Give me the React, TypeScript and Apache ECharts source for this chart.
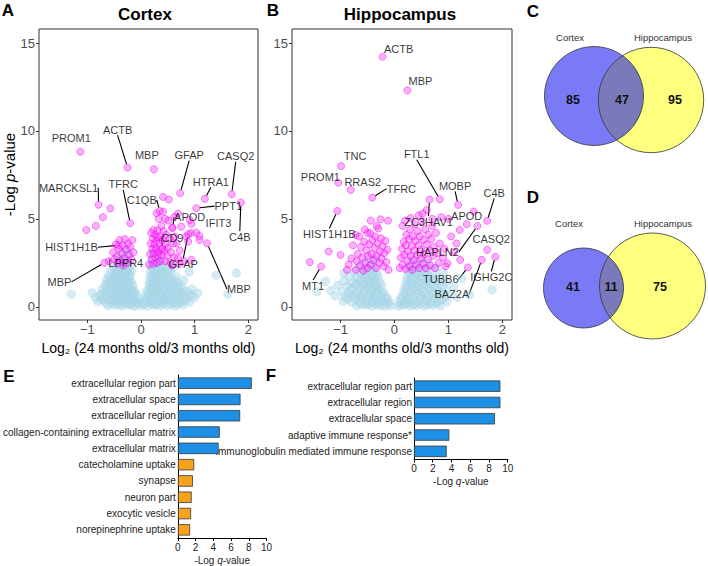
import React, { useEffect, useRef } from "react";
import * as echarts from "echarts";

// ---------------- DATA ----------------
const volcanoXTicks = [-1, 0, 1, 2];
const volcanoYTicks = [0, 5, 10, 15];
const goXTicks = [0, 2, 4, 6, 8, 10];

// Cortex volcano: non-significant genes (light blue cloud)
const cortexBackground: number[][] = [
  [-0.62, 0.06], [-0.48, 0.1], [-0.36, 0.04], [-0.24, 0.08], [-0.12, 0.03], [0.0, 0.07], [0.12, 0.04], [0.24, 0.09], [0.36, 0.05], [0.5, 0.08], [0.64, 0.04], [0.78, 0.1],
  [-0.55, 0.16], [-0.42, 0.14], [-0.3, 0.17], [-0.18, 0.13], [-0.06, 0.16], [0.06, 0.14], [0.18, 0.17], [0.3, 0.13], [0.43, 0.16], [0.57, 0.14], [0.7, 0.17],
  [-0.8, 0.3], [-0.66, 0.24], [-0.53, 0.32], [-0.41, 0.26], [-0.3, 0.3], [-0.19, 0.22], [-0.08, 0.3], [0.04, 0.25], [0.15, 0.31], [0.26, 0.22], [0.38, 0.29], [0.5, 0.33], [0.63, 0.24], [0.76, 0.3], [0.9, 0.27],
  [-0.74, 0.41], [-0.6, 0.38], [-0.47, 0.42], [-0.35, 0.39], [-0.24, 0.41], [-0.13, 0.38], [-0.02, 0.42], [0.09, 0.39], [0.2, 0.41], [0.32, 0.38], [0.44, 0.42], [0.56, 0.39], [0.69, 0.41], [0.82, 0.38],
  [-0.85, 0.52], [-0.7, 0.47], [-0.57, 0.55], [-0.45, 0.5], [-0.33, 0.46], [-0.22, 0.54], [-0.11, 0.49], [0.1, 0.53], [0.21, 0.47], [0.33, 0.55], [0.45, 0.5], [0.58, 0.46], [0.72, 0.54], [0.86, 0.49], [1.0, 0.52],
  [-0.77, 0.63], [-0.63, 0.61], [-0.51, 0.64], [-0.39, 0.6], [-0.28, 0.63], [-0.17, 0.61], [-0.06, 0.64], [0.16, 0.6], [0.27, 0.63], [0.39, 0.61], [0.51, 0.64], [0.65, 0.6], [0.79, 0.63], [0.93, 0.61],
  [-1.3, 0.72], [-0.91, 0.8], [-0.74, 0.74], [-0.6, 0.78], [-0.48, 0.72], [-0.36, 0.79], [-0.25, 0.73], [-0.14, 0.77], [0.13, 0.74], [0.24, 0.79], [0.36, 0.72], [0.49, 0.77], [0.62, 0.73], [0.76, 0.8], [0.92, 0.74], [1.06, 0.78], [1.62, 0.72],
  [-0.66, 0.88], [-0.54, 0.86], [-0.42, 0.89], [-0.31, 0.87], [-0.21, 0.9], [-0.11, 0.86], [0.1, 0.89], [0.2, 0.86], [0.31, 0.9], [0.43, 0.87], [0.56, 0.89], [0.7, 0.86], [0.85, 0.89],
  [-0.72, 1.02], [-0.6, 0.97], [-0.48, 1.04], [-0.37, 0.99], [-0.26, 1.03], [-0.16, 0.98], [0.15, 1.02], [0.25, 0.97], [0.37, 1.04], [0.5, 0.99], [0.63, 1.03], [0.78, 0.98], [0.95, 1.02],
  [-0.66, 1.13], [-0.54, 1.11], [-0.43, 1.14], [-0.32, 1.1], [-0.21, 1.13], [0.19, 1.11], [0.3, 1.14], [0.42, 1.1], [0.55, 1.13], [0.69, 1.11],
  [-0.66, 1.27], [-0.55, 1.22], [-0.44, 1.28], [-0.33, 1.23], [-0.23, 1.27], [-0.15, 1.21], [0.15, 1.26], [0.24, 1.22], [0.35, 1.28], [0.47, 1.23], [0.6, 1.27], [0.74, 1.22],
  [-0.6, 1.38], [-0.49, 1.36], [-0.38, 1.39], [-0.27, 1.37], [-0.18, 1.4], [0.2, 1.37], [0.3, 1.39], [0.42, 1.36], [0.55, 1.4], [0.68, 1.37],
  [-0.64, 1.52], [-0.53, 1.47], [-0.42, 1.53], [-0.32, 1.48], [-0.22, 1.52], [0.16, 1.49], [0.26, 1.53], [0.37, 1.47], [0.49, 1.52], [0.62, 1.48], [0.8, 1.51],
  [-0.57, 1.63], [-0.47, 1.61], [-0.36, 1.64], [-0.26, 1.6], [0.21, 1.63], [0.32, 1.61], [0.44, 1.64], [0.57, 1.6],
  [-0.61, 1.77], [-0.5, 1.72], [-0.4, 1.78], [-0.3, 1.73], [-0.2, 1.77], [0.17, 1.72], [0.27, 1.78], [0.39, 1.73], [0.52, 1.77], [0.66, 1.73], [1.4, 1.8],
  [-0.51, 1.88], [-0.41, 1.86], [-0.31, 1.89], [-0.22, 1.87], [0.23, 1.89], [0.35, 1.86], [0.48, 1.88],
  [-0.56, 2.02], [-0.46, 1.97], [-0.36, 2.03], [-0.26, 1.98], [-0.18, 2.02], [0.18, 1.98], [0.29, 2.03], [0.41, 1.97], [0.55, 2.02], [0.9, 1.98], [1.78, 1.92],
  [-0.45, 2.13], [-0.35, 2.11], [-0.26, 2.14], [0.24, 2.12], [0.36, 2.14], [0.5, 2.11],
  [-0.5, 2.27], [-0.4, 2.22], [-0.3, 2.28], [-0.21, 2.23], [0.19, 2.27], [0.3, 2.22], [0.43, 2.28], [0.6, 2.24],
  [-0.39, 2.38], [-0.29, 2.37], [0.25, 2.39], [0.38, 2.36],
  [-0.44, 2.52], [-0.34, 2.47], [-0.25, 2.53], [0.2, 2.48], [0.31, 2.53], [0.46, 2.49],
  [-0.38, 2.77], [-0.28, 2.72], [0.21, 2.76], [0.32, 2.72],
  [-0.33, 3.02], [-0.24, 2.98], [0.22, 3.01], [0.3, 2.97],
  [-0.27, 3.23], [0.25, 3.27],
];

// Cortex volcano: significant genes (magenta)
const cortexSignificant: number[][] = [
  [-0.52, 3.1], [-0.47, 3.55], [-0.45, 2.85], [-0.42, 3.3], [-0.4, 3.8], [-0.38, 2.6], [-0.36, 3.05], [-0.34, 3.5], [-0.31, 2.75], [-0.3, 3.85],
  [-0.28, 3.25], [-0.26, 2.5], [-0.24, 3.6], [-0.22, 2.95], [-0.2, 3.4], [-0.18, 2.7], [-0.16, 3.8], [-0.14, 3.1], [-0.33, 2.35], [-0.44, 2.45], [-0.5, 2.7],
  [-1.02, 4.37], [-0.84, 4.6], [-0.71, 5.1], [-0.57, 5.6],
  [0.15, 2.4], [0.17, 3.0], [0.18, 3.6], [0.2, 2.7], [0.21, 3.3], [0.22, 3.9], [0.23, 2.45], [0.24, 3.05], [0.25, 3.55], [0.26, 4.1],
  [0.27, 2.8], [0.28, 3.3], [0.29, 3.75], [0.3, 2.5], [0.31, 4.35], [0.32, 3.1], [0.33, 2.9], [0.34, 3.6], [0.35, 4.0], [0.36, 2.6],
  [0.37, 3.3], [0.38, 4.6], [0.39, 2.95], [0.4, 3.8], [0.42, 4.3], [0.43, 3.2], [0.45, 2.6], [0.46, 3.6], [0.47, 4.1], [0.49, 2.9],
  [0.5, 3.35], [0.51, 4.9], [0.53, 3.9], [0.55, 2.5], [0.56, 3.1], [0.58, 4.5], [0.6, 3.6], [0.62, 2.8], [0.63, 4.0], [0.66, 3.62],
  [0.69, 2.77], [0.69, 5.3], [0.75, 4.56], [0.72, 3.2], [0.8, 2.6], [0.84, 4.0], [0.88, 3.71], [0.91, 4.94], [0.93, 4.19], [0.94, 2.67],
  [1.03, 4.22], [1.09, 4.03], [1.09, 3.8], [0.41, 6.25], [0.52, 6.1], [0.29, 5.32], [0.41, 5.41], [0.23, 4.37], [0.3, 3.95], [0.19, 4.2],
  [0.33, 5.0], [0.45, 5.0], [0.62, 5.1], [0.58, 2.35], [0.72, 2.45],
];

// Cortex volcano: labelled genes
const cortexGeneNames = ["PROM1", "ACTB", "MBP", "GFAP", "CASQ2", "HTRA1", "PPT1", "C4B", "IFIT3", "APOD", "CD9", "GFAP", "MBP", "C1QB", "TFRC", "MARCKSL1", "HIST1H1B", "LPPR4", "MBP"];
const cortexGeneX = [-1.13, -0.25, 0.24, 0.73, 1.69, 1.19, 1.03, 1.86, 0.94, 0.59, 0.4, 0.88, 1.23, 0.35, -0.2, -0.79, -0.42, -0.6, -0.68];
const cortexGeneY = [8.82, 7.92, 7.82, 6.46, 6.4, 6.14, 5.61, 5.93, 4.72, 4.49, 3.3, 4.13, 3.62, 5.45, 4.75, 5.8, 3.5, 2.6, 2.5];

// Hippocampus volcano: non-significant genes
const hippoBackground: number[][] = [
  [-0.7, 0.06], [-0.55, 0.1], [-0.42, 0.04], [-0.3, 0.08], [-0.18, 0.03], [-0.07, 0.07], [0.07, 0.04], [0.18, 0.09], [0.3, 0.05], [0.42, 0.08], [0.55, 0.04], [0.7, 0.1], [0.85, 0.06],
  [-0.62, 0.16], [-0.48, 0.14], [-0.36, 0.17], [-0.24, 0.13], [-0.12, 0.16], [0.12, 0.14], [0.24, 0.17], [0.36, 0.13], [0.48, 0.16], [0.62, 0.14], [0.77, 0.17],
  [-0.95, 0.32], [-0.8, 0.27], [-0.66, 0.33], [-0.53, 0.28], [-0.41, 0.31], [-0.3, 0.26], [-0.19, 0.32], [-0.09, 0.27], [0.09, 0.31], [0.19, 0.26], [0.3, 0.32], [0.42, 0.28], [0.55, 0.33], [0.68, 0.27], [0.82, 0.31], [0.97, 0.28],
  [-0.87, 0.46], [-0.72, 0.44], [-0.59, 0.47], [-0.47, 0.43], [-0.35, 0.46], [-0.24, 0.44], [-0.13, 0.47], [0.12, 0.44], [0.24, 0.46], [0.36, 0.43], [0.48, 0.47], [0.61, 0.44], [0.75, 0.46], [0.89, 0.43],
  [-1.1, 0.62], [-0.92, 0.57], [-0.77, 0.63], [-0.63, 0.58], [-0.5, 0.62], [-0.38, 0.57], [-0.27, 0.63], [-0.16, 0.58], [0.14, 0.62], [0.25, 0.57], [0.37, 0.63], [0.5, 0.58], [0.64, 0.62], [0.79, 0.57], [0.95, 0.63], [1.16, 0.55], [1.39, 0.68],
  [-0.85, 0.76], [-0.7, 0.74], [-0.57, 0.77], [-0.44, 0.73], [-0.33, 0.76], [-0.22, 0.74], [0.2, 0.77], [0.31, 0.74], [0.44, 0.76], [0.58, 0.73], [0.72, 0.77], [0.88, 0.74],
  [-1.44, 0.85], [-1.18, 0.93], [-0.98, 0.88], [-0.82, 0.92], [-0.68, 0.87], [-0.55, 0.93], [-0.43, 0.88], [-0.32, 0.92], [-0.21, 0.87], [0.17, 0.92], [0.28, 0.87], [0.4, 0.93], [0.53, 0.88], [0.67, 0.92], [0.82, 0.87], [0.98, 0.93], [1.81, 0.97],
  [-0.8, 1.06], [-0.65, 1.04], [-0.52, 1.07], [-0.4, 1.03], [-0.29, 1.06], [0.23, 1.04], [0.36, 1.07], [0.5, 1.03], [0.65, 1.06], [0.8, 1.04],
  [-1.05, 1.22], [-0.88, 1.17], [-0.72, 1.23], [-0.58, 1.18], [-0.46, 1.22], [-0.35, 1.17], [-0.24, 1.23], [0.2, 1.18], [0.31, 1.22], [0.44, 1.17], [0.58, 1.23], [0.73, 1.18], [0.9, 1.22], [1.1, 1.17],
  [-0.71, 1.33], [-0.57, 1.31], [-0.45, 1.34], [-0.33, 1.3], [0.26, 1.33], [0.4, 1.31], [0.53, 1.34], [0.68, 1.3], [0.84, 1.33],
  [-1.28, 1.44], [-0.94, 1.47], [-0.78, 1.42], [-0.64, 1.48], [-0.51, 1.43], [-0.39, 1.47], [-0.27, 1.42], [0.22, 1.47], [0.34, 1.42], [0.47, 1.48], [0.61, 1.43], [0.77, 1.47], [0.95, 1.42],
  [-0.62, 1.58], [-0.49, 1.56], [-0.36, 1.59], [0.29, 1.57], [0.43, 1.59], [0.57, 1.56], [0.72, 1.58],
  [-0.84, 1.72], [-0.69, 1.67], [-0.55, 1.73], [-0.42, 1.68], [-0.3, 1.72], [0.24, 1.68], [0.37, 1.73], [0.5, 1.67], [0.65, 1.72], [0.82, 1.68], [1.25, 1.62],
  [-0.53, 1.83], [-0.4, 1.81], [0.31, 1.84], [0.46, 1.82], [0.61, 1.83],
  [-0.94, 1.91], [-0.74, 1.97], [-0.6, 1.92], [-0.46, 1.98], [-0.33, 1.93], [0.26, 1.97], [0.4, 1.92], [0.54, 1.98], [0.7, 1.93], [0.9, 1.97],
  [-0.45, 2.08], [0.34, 2.09], [0.5, 2.07],
  [-0.66, 2.22], [-0.52, 2.17], [-0.38, 2.23], [0.28, 2.18], [0.43, 2.22], [0.6, 2.17], [0.78, 2.21],
  [-0.56, 2.47], [-0.42, 2.42], [0.3, 2.46], [0.46, 2.42], [0.64, 2.47],
  [-0.46, 2.72], [-0.35, 2.67], [0.33, 2.71], [0.5, 2.67],
];

// Hippocampus volcano: significant genes
const hippoSignificant: number[][] = [
  [-0.72, 2.1], [-0.7, 2.6], [-0.68, 3.0], [-0.64, 2.35], [-0.62, 3.4], [-0.6, 2.8], [-0.58, 2.05], [-0.56, 3.7], [-0.54, 2.5], [-0.52, 3.2],
  [-0.5, 2.2], [-0.49, 2.9], [-0.47, 3.55], [-0.45, 4.2], [-0.44, 2.4], [-0.42, 3.0], [-0.41, 3.8], [-0.39, 2.65], [-0.37, 3.35], [-0.36, 4.0],
  [-0.34, 2.2], [-0.33, 2.9], [-0.31, 3.6], [-0.3, 4.45], [-0.28, 2.5], [-0.27, 3.15], [-0.25, 3.9], [-0.24, 2.75], [-0.22, 3.45], [-0.2, 2.3],
  [-0.19, 3.05], [-0.17, 3.75], [-0.15, 2.55], [-0.13, 3.25], [-0.11, 2.1], [-0.44, 4.9], [-0.26, 4.98], [-0.12, 4.9], [-0.72, 4.09], [-1.22, 3.14],
  [-1.57, 2.54], [-1.0, 2.95], [-0.88, 2.1], [-0.8, 2.75], [-0.77, 3.5], [-0.85, 2.4], [-0.65, 4.0], [-0.55, 4.4], [-0.33, 4.6], [-0.5, 4.2],
  [0.1, 2.2], [0.12, 2.8], [0.14, 3.3], [0.15, 2.4], [0.17, 3.7], [0.18, 2.95], [0.2, 2.15], [0.21, 3.5], [0.22, 4.1], [0.24, 2.6],
  [0.25, 3.15], [0.27, 3.85], [0.28, 2.3], [0.29, 4.4], [0.3, 2.9], [0.32, 3.45], [0.33, 2.1], [0.34, 4.0], [0.36, 2.65], [0.37, 3.2],
  [0.38, 4.7], [0.39, 3.75], [0.4, 2.4], [0.42, 2.95], [0.43, 4.3], [0.45, 3.5], [0.46, 2.2], [0.47, 4.0], [0.49, 2.75], [0.5, 3.25],
  [0.51, 4.85], [0.53, 2.45], [0.54, 3.8], [0.55, 3.0], [0.57, 4.4], [0.58, 2.2], [0.6, 3.55], [0.6, 5.5], [0.62, 2.7], [0.63, 4.1],
  [0.65, 3.2], [0.66, 2.35], [0.68, 3.85], [0.7, 4.6], [0.72, 2.9], [0.73, 3.4], [0.75, 2.2], [0.77, 4.2], [0.8, 3.05], [0.82, 2.5],
  [0.84, 3.6], [0.87, 5.1], [0.9, 2.8], [0.93, 3.3], [0.95, 2.3], [0.98, 2.48], [1.05, 4.0], [1.1, 3.1], [1.21, 4.37], [1.34, 4.7],
  [1.22, 2.67], [1.15, 3.6], [0.52, 5.3], [0.45, 5.2], [0.7, 5.0], [1.0, 5.0], [0.3, 5.05], [0.15, 4.6], [0.2, 4.9],
];

const hippoGeneNames = ["ACTB", "MBP", "TNC", "PROM1", "RRAS2", "TFRC", "HIST1H1B", "MT1", "FTL1", "MOBP", "ZC3HAV1", "APOD", "HAPLN2", "C4B", "CASQ2", "IGHG2C", "TUBB6", "BAZ2A"];
const hippoGeneX = [-0.22, 0.24, -0.99, -1.04, -0.81, -0.41, -1.06, -1.36, 0.84, 1.18, 0.65, 1.47, 1.54, 1.72, 1.72, 1.87, 1.36, 1.62];
const hippoGeneY = [14.22, 12.31, 8.01, 7.06, 6.65, 6.21, 5.45, 2.29, 6.12, 5.8, 6.1, 5.42, 4.6, 4.89, 3.24, 2.84, 2.24, 2.67];

// Venn diagrams: [Cortex only, shared, Hippocampus only]
const vennSetNames = ["Cortex", "Hippocampus"];
const vennCCounts = [85, 47, 95];
const vennDCounts = [41, 11, 75];

// GO enrichment (E: cortex, F: hippocampus)
const goCortexTerms = [
  "extracellular region part", "extracellular space", "extracellular region", "collagen-containing extracellular matrix", "extracellular matrix",
  "catecholamine uptake", "synapse", "neuron part", "exocytic vesicle", "norepinephrine uptake",
];
const goCortexValues = [8.34, 7.07, 7.03, 4.73, 4.6, 1.84, 1.7, 1.56, 1.49, 1.38];
const goCortexDirection = ["up", "up", "up", "up", "up", "down", "down", "down", "down", "down"];

const goHippoTerms = [
  "extracellular region part", "extracellular region", "extracellular space", "adaptive immune response*", "immunoglobulin mediated immune response",
];
const goHippoValues = [9.22, 9.22, 8.64, 3.77, 3.49];

// ---------------- LAYOUT / STYLE ----------------
const FONT = "'Liberation Sans', Arial, Helvetica, sans-serif";
const BLUE_BAR = "#1E8FE6";
const ORANGE_BAR = "#F7A21B";

// label offsets (dx, dy in px, leader line 1/0) for the gene annotations
const cortexLabelLayout = [
  [-9, -14, 0], [-10, -38, 1], [-7, -14, 0], [9, -38, 1], [4, -38, 1], [6, -17, 1], [32, -2, 1], [-1, 34, 1], [27, -1, 0], [17, -11, 1],
  [10, -11, 1], [-5, 30, 1], [32, 46, 1], [-18, -11, 1], [-7, -39, 1], [-30, -17, 1], [-47, 2, 1], [17, 2, 0], [-45, 19, 1],
];
const hippoLabelLayout = [
  [16, -8, 0], [13, -9, 0], [14, -10, 0], [-18, -6, 0], [12, -8, 0], [29, -9, 1], [-8, 23, 1], [-8, 19, 1], [-23, -45, 1], [-3, -19, 1],
  [-1, 22, 1], [-7, 4, 0], [-40, 26, 1], [7, -28, 1], [4, -11, 0], [-4, 20, 1], [-27, 12, 1], [-30, 34, 1],
];

const fmtMinus = (v: number) => (v < 0 ? "\u2212" + Math.abs(v) : String(v));

function volcanoXAxis(gridIndex: number) {
  return {
    type: "value",
    gridIndex,
    min: -1.9,
    max: 2.18,
    axisLine: { show: false, onZero: false },
    axisTick: { show: true, length: 3, customValues: volcanoXTicks, lineStyle: { color: "#333" } },
    axisLabel: { customValues: volcanoXTicks, formatter: fmtMinus, fontSize: 13, color: "#4d4d4d", margin: 3, fontFamily: FONT },
    splitLine: { show: false },
    name: "Log\u2082 (24 months old/3 months old)",
    nameLocation: "middle",
    nameGap: 19,
    nameTextStyle: { fontSize: 14, color: "#000", fontFamily: FONT },
  };
}

function volcanoYAxis(gridIndex: number, withName: boolean) {
  return {
    type: "value",
    gridIndex,
    min: -0.75,
    max: 15.8,
    axisLine: { show: false, onZero: false },
    axisTick: { show: true, length: 3, customValues: volcanoYTicks, lineStyle: { color: "#333" } },
    axisLabel: { customValues: volcanoYTicks, fontSize: 13, color: "#4d4d4d", margin: 4, fontFamily: FONT },
    splitLine: { show: false },
    name: withName ? "-Log {i|p}-value" : "",
    nameLocation: "middle",
    nameGap: 21,
    nameTextStyle: {
      fontSize: 15,
      color: "#000",
      fontFamily: FONT,
      rich: { i: { fontStyle: "italic", fontSize: 15, color: "#000", fontFamily: FONT } },
    },
  };
}

function volcanoSeries(
  axisIndex: number,
  background: number[][],
  significant: number[][],
  names: string[],
  xs: number[],
  ys: number[],
  layout: number[][]
) {
  const magentaStyle = { color: "rgba(255,40,255,0.45)", borderColor: "rgba(240,0,240,0.75)", borderWidth: 0.8 };
  return [
    {
      type: "scatter",
      xAxisIndex: axisIndex,
      yAxisIndex: axisIndex,
      data: background,
      symbolSize: 8.5,
      itemStyle: { color: "rgba(170,215,232,0.6)", borderColor: "rgba(155,205,225,0.55)", borderWidth: 0.6 },
    },
    {
      type: "scatter",
      xAxisIndex: axisIndex,
      yAxisIndex: axisIndex,
      data: significant,
      symbolSize: 7,
      itemStyle: magentaStyle,
    },
    {
      type: "scatter",
      xAxisIndex: axisIndex,
      yAxisIndex: axisIndex,
      symbolSize: 7,
      itemStyle: magentaStyle,
      data: names.map((n, i) => ({
        name: n,
        value: [xs[i], ys[i]],
        labelLine: { show: layout[i][2] === 1 },
      })),
      label: {
        show: true,
        position: "inside",
        formatter: "{b}",
        color: "#000",
        fontSize: 11,
        fontFamily: FONT,
      },
      labelLine: { show: true, lineStyle: { color: "#000", width: 1.1 } },
      labelLayout: (p: any) => ({ dx: layout[p.dataIndex][0], dy: layout[p.dataIndex][1] }),
    },
  ];
}

function goXAxis(gridIndex: number) {
  return {
    type: "value",
    gridIndex,
    min: 0,
    max: 10,
    interval: 2,
    axisLine: { show: true, onZero: false, lineStyle: { color: "#000", width: 1 } },
    axisTick: { show: true, length: 3, lineStyle: { color: "#000" } },
    axisLabel: { fontSize: 10, color: "#222", margin: 4, fontFamily: FONT, customValues: goXTicks },
    splitLine: { show: false },
    name: "-Log {i|q}-value",
    nameLocation: "middle",
    nameGap: 17,
    nameTextStyle: {
      fontSize: 10,
      color: "#222",
      fontFamily: FONT,
      rich: { i: { fontStyle: "italic", fontSize: 10, color: "#222", fontFamily: FONT } },
    },
  };
}

function goYAxis(gridIndex: number, terms: string[]) {
  return {
    type: "category",
    gridIndex,
    data: terms,
    inverse: true,
    axisLine: { show: true, onZero: false, lineStyle: { color: "#000", width: 1 } },
    axisTick: { show: false },
    axisLabel: { fontSize: 10, color: "#222", margin: 2, fontFamily: FONT },
  };
}

function vennGraphics(
  cx1: number, cy1: number, r1: number,
  cx2: number, cy2: number, r2: number,
  labelY: number, labelX: number[], numY: number, numX: number[], counts: number[]
) {
  const stroke = { stroke: "#333", lineWidth: 0.8, fill: "none" };
  return [
    { type: "circle", shape: { cx: cx2, cy: cy2, r: r2 }, style: { fill: "rgba(255,255,0,0.5)" }, silent: true },
    { type: "circle", shape: { cx: cx1, cy: cy1, r: r1 }, style: { fill: "rgba(0,0,240,0.52)" }, silent: true },
    { type: "circle", shape: { cx: cx2, cy: cy2, r: r2 }, style: { ...stroke }, silent: true },
    { type: "circle", shape: { cx: cx1, cy: cy1, r: r1 }, style: { ...stroke }, silent: true },
    ...vennSetNames.map((n, i) => ({
      type: "text",
      x: labelX[i],
      y: labelY,
      style: { text: n, fill: "#333", font: `9.5px ${FONT}`, textAlign: "center", textVerticalAlign: "middle" },
      silent: true,
    })),
    ...counts.map((c, i) => ({
      type: "text",
      x: numX[i],
      y: numY,
      style: { text: String(c), fill: "#111", font: `bold 12.5px ${FONT}`, textAlign: "center", textVerticalAlign: "middle" },
      silent: true,
    })),
  ];
}

function panelLetter(t: string, x: number, y: number) {
  return {
    type: "text",
    x,
    y,
    style: { text: t, fill: "#000", font: `bold 17px ${FONT}`, textAlign: "center", textVerticalAlign: "middle" },
    silent: true,
  };
}

function volcanoOption() {
  return {
    animation: false,
    grid: [
      { left: 39, top: 29, width: 219, height: 291, show: true, borderColor: "#333", borderWidth: 1, backgroundColor: "transparent" },
      { left: 292, top: 29, width: 220, height: 291, show: true, borderColor: "#333", borderWidth: 1, backgroundColor: "transparent" },
    ],
    xAxis: [volcanoXAxis(0), volcanoXAxis(1)],
    yAxis: [volcanoYAxis(0, true), volcanoYAxis(1, false)],
    series: [
      ...volcanoSeries(0, cortexBackground, cortexSignificant, cortexGeneNames, cortexGeneX, cortexGeneY, cortexLabelLayout),
      ...volcanoSeries(1, hippoBackground, hippoSignificant, hippoGeneNames, hippoGeneX, hippoGeneY, hippoLabelLayout),
    ],
  };
}

function goOption() {
  return {
    animation: false,
    grid: [
      { left: 172, top: 375, width: 94.5, height: 163 },
      { left: 414, top: 378, width: 93.7, height: 81.5 },
    ],
    xAxis: [goXAxis(0), goXAxis(1)],
    yAxis: [goYAxis(0, goCortexTerms), goYAxis(1, goHippoTerms)],
    series: [
      {
        type: "bar",
        xAxisIndex: 0,
        yAxisIndex: 0,
        barCategoryGap: "30%",
        data: goCortexValues.map((v, i) => ({
          value: v,
          itemStyle: { color: goCortexDirection[i] === "up" ? BLUE_BAR : ORANGE_BAR },
        })),
        itemStyle: { borderColor: "#3a3a3a", borderWidth: 0.8 },
      },
      {
        type: "bar",
        xAxisIndex: 1,
        yAxisIndex: 1,
        barCategoryGap: "30%",
        data: goHippoValues,
        itemStyle: { color: BLUE_BAR, borderColor: "#3a3a3a", borderWidth: 0.8 },
      },
    ],
  };
}

function annotationOption() {
  return {
    animation: false,
    graphic: [
      panelLetter("A", 8, 10),
      panelLetter("B", 273, 10),
      panelLetter("C", 533, 11),
      panelLetter("D", 533, 197),
      panelLetter("E", 9, 376),
      panelLetter("F", 271, 375),
      {
        type: "text", x: 145, y: 14,
        style: { text: "Cortex", fill: "#000", font: `bold 17px ${FONT}`, textAlign: "center", textVerticalAlign: "middle" },
        silent: true,
      },
      {
        type: "text", x: 400, y: 14,
        style: { text: "Hippocampus", fill: "#000", font: `bold 17px ${FONT}`, textAlign: "center", textVerticalAlign: "middle" },
        silent: true,
      },
      ...vennGraphics(594, 96, 49.5, 651, 100, 52.7, 37, [570, 663], 100, [573, 622, 675], vennCCounts),
      ...vennGraphics(583.5, 288, 40, 652.5, 286, 53, 223, [569, 663], 287, [573, 611, 660], vennDCounts),
    ],
  };
}

export default function App() {
  const volcanoRef = useRef<HTMLDivElement>(null);
  const goRef = useRef<HTMLDivElement>(null);
  const annoRef = useRef<HTMLDivElement>(null);
  useEffect(() => {
    document.body.style.margin = "0";
    const charts = [
      echarts.init(volcanoRef.current as HTMLDivElement, null, { renderer: "svg" }),
      echarts.init(goRef.current as HTMLDivElement, null, { renderer: "svg" }),
      echarts.init(annoRef.current as HTMLDivElement, null, { renderer: "svg" }),
    ];
    charts[0].setOption(volcanoOption() as any);
    charts[1].setOption(goOption() as any);
    charts[2].setOption(annotationOption() as any);
    return () => charts.forEach((c) => c.dispose());
  }, []);
  return (
    <div style={{ position: "absolute", left: 0, top: 0, width: 708, height: 566, background: "#fff", overflow: "hidden" }}>
      <div ref={volcanoRef} style={{ position: "absolute", left: 0, top: 0, width: 520, height: 360 }} />
      <div ref={goRef} style={{ position: "absolute", left: 0, top: 0, width: 708, height: 566 }} />
      <div ref={annoRef} style={{ position: "absolute", left: 0, top: 0, width: 708, height: 566, pointerEvents: "none" }} />
    </div>
  );
}
